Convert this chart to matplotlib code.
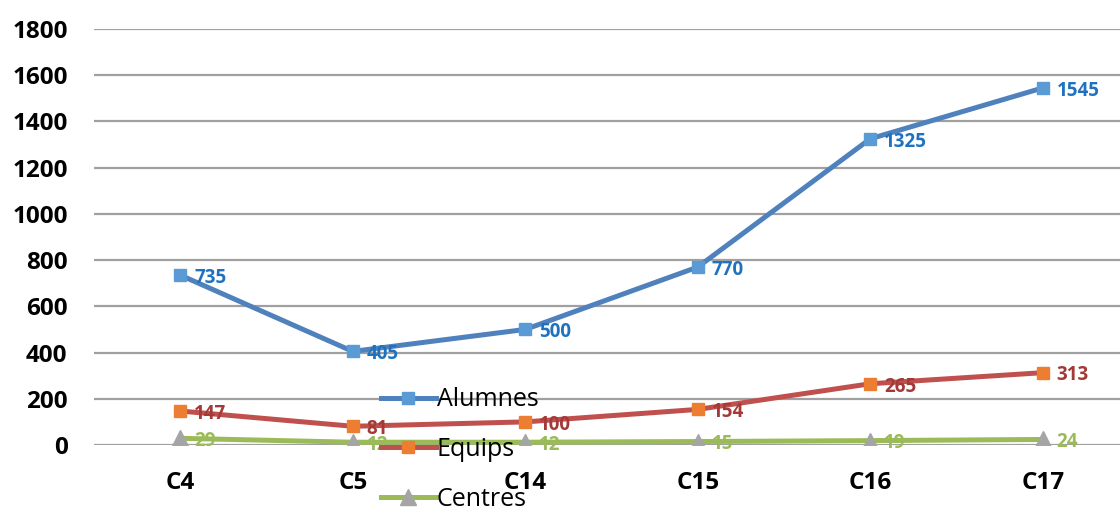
import numpy as np
import matplotlib.pyplot as plt

plt.rcParams['font.family'] = ['Open Sans', 'DejaVu Sans']

categories = ['C4', 'C5', 'C14', 'C15', 'C16', 'C17']
alumnes = [735, 405, 500, 770, 1325, 1545]
equips = [147, 81, 100, 154, 265, 313]
centres = [29, 12, 12, 15, 19, 24]

fig = plt.figure(figsize=(11.2, 5.07), dpi=100)
ax = fig.add_axes([94 / 1120, 62 / 507, 1035 / 1120, 416 / 507])

x = np.arange(len(categories)) + 0.5

series = [
    ('Alumnes', alumnes, '#4F81BD', '#5B9BD5', 's', '#1F72C0'),
    ('Equips', equips, '#C0504D', '#ED7D31', 's', '#A33A37'),
    ('Centres', centres, '#9BBB59', '#A5A5A5', '^', '#9BBB59'),
]

for name, vals, lc, mc, mk, tc in series:
    ax.plot(x, vals, color=lc, linewidth=3.6, marker=mk, markersize=9 if mk == 's' else 11,
            markerfacecolor=mc, markeredgecolor=mc, label=name, zorder=3)
    for xi, v in zip(x, vals):
        ax.annotate(str(v), (xi, v), xytext=(10, -2), textcoords='offset points',
                    ha='left', va='center', color=tc, fontsize=13.5, fontweight='bold', zorder=4)

ax.set_xlim(0, len(categories))
ax.set_ylim(0, 1800)
ax.set_yticks(np.arange(0, 1801, 200))
ax.set_xticks(x)
ax.set_xticklabels(categories)
ax.grid(axis='y', color='#A0A0A0', linewidth=1.6, zorder=0)
ax.set_axisbelow(True)
for s in ax.spines.values():
    s.set_visible(False)
ax.tick_params(axis='both', length=0, labelsize=17.5)
ax.tick_params(axis='y', pad=19)
ax.tick_params(axis='x', pad=19)
for lbl in ax.get_xticklabels() + ax.get_yticklabels():
    lbl.set_fontweight('bold')

leg = ax.legend(loc='upper left', bbox_to_anchor=(368 / 1120, 1 - 375 / 507),
                bbox_transform=fig.transFigure, frameon=False, fontsize=18,
                handlelength=2.2, handletextpad=0.05, labelspacing=0.98,
                borderpad=0)
leg.set_zorder(5)

fig.savefig('out.png', dpi=100)
